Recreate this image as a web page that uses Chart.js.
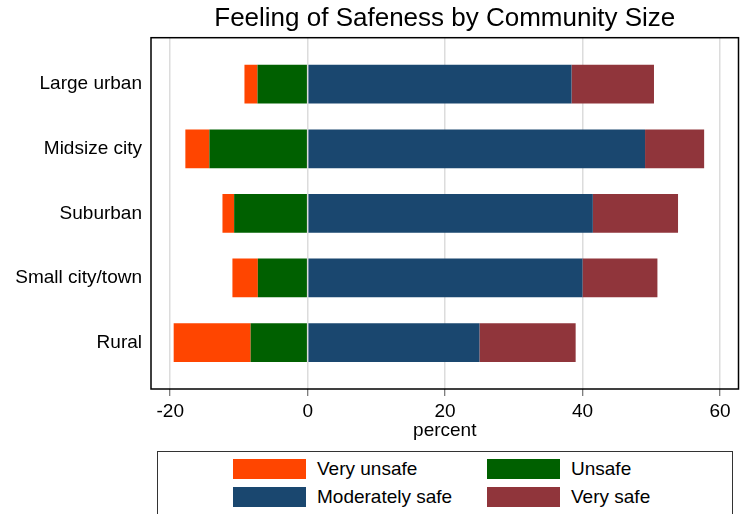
<!DOCTYPE html>
<html>
<head>
<meta charset="utf-8">
<script src="https://cdn.jsdelivr.net/npm/chart.js@4.4.1/dist/chart.umd.min.js"></script>
<style>
  html, body { margin: 0; padding: 0; background: #fff; overflow: hidden; }
  #wrap { position: relative; width: 741px; height: 514px; }
  #legend {
    position: absolute; left: 157px; top: 451px; width: 576px; height: 80px;
    border: 1px solid #333; box-sizing: border-box; background: #fff;
    font-family: "Liberation Sans", Arial, sans-serif; font-size: 19px; color: #000;
  }
  .item { position: absolute; height: 20px; display: flex; align-items: center; white-space: nowrap; }
  .sw { width: 73px; height: 20px; margin-right: 11px; box-sizing: border-box; }
</style>
</head>
<body>
<div id="wrap">
  <canvas id="c" width="741" height="514"></canvas>
  <div id="legend"></div>
</div>
<script>
// ---- data ----
const categories = ['Large urban', 'Midsize city', 'Suburban', 'Small city/town', 'Rural'];
const veryUnsafe     = [1.9, 3.5, 1.7, 3.7, 11.2];
const unsafe         = [7.3, 14.3, 10.7, 7.25, 8.3];
const moderatelySafe = [38.4, 49.1, 41.5, 40.0, 25.0];
const verySafe       = [12.0, 8.6, 12.4, 10.9, 14.0];
const xTickValues    = [-20, 0, 20, 40, 60];
const seriesNames    = ['Very unsafe', 'Unsafe', 'Moderately safe', 'Very safe'];
const seriesColors   = ['#FF4500', '#006000', '#1A476F', '#90353B'];

const FONT = '"Liberation Sans", Arial, Helvetica, sans-serif';

function pts(values, sign) {
  return categories.map((c, i) => ({ y: i, x: sign * values[i] }));
}

const frame = {
  id: 'frame',
  afterDatasetsDraw(chart) {
    const { ctx, chartArea: a } = chart;
    ctx.save();
    ctx.strokeStyle = '#000';
    ctx.lineWidth = 1.5;
    ctx.strokeRect(a.left, a.top, a.right - a.left, a.bottom - a.top);
    ctx.restore();
  }
};

const barCommon = { barPercentage: 0.6, categoryPercentage: 1, borderWidth: 0 };

const chart = new Chart(document.getElementById('c'), {
  type: 'bar',
  data: {
    datasets: [
      { label: seriesNames[1], data: pts(unsafe, -1), backgroundColor: seriesColors[1], ...barCommon },
      { label: seriesNames[0], data: pts(veryUnsafe, -1), backgroundColor: seriesColors[0], ...barCommon },
      { label: seriesNames[2], data: pts(moderatelySafe, 1), backgroundColor: seriesColors[2], ...barCommon },
      { label: seriesNames[3], data: pts(verySafe, 1), backgroundColor: seriesColors[3], ...barCommon }
    ]
  },
  options: {
    responsive: false,
    animation: false,
    indexAxis: 'y',
    layout: { padding: { left: 0, right: 2.5, top: 0, bottom: 73.5 } },
    plugins: {
      legend: { display: false },
      tooltip: { enabled: false },
      title: {
        display: true,
        text: 'Feeling of Safeness by Community Size',
        fullSize: false,
        color: '#000',
        font: { family: FONT, size: 26, weight: 'normal', lineHeight: 1.2 },
        padding: { top: 3, bottom: 3.5 }
      }
    },
    scales: {
      x: {
        type: 'linear',
        stacked: true,
        min: -22.8,
        max: 62.7,
        afterBuildTicks: s => { s.ticks = xTickValues.map(v => ({ value: v })); },
        afterFit: s => { s.height = 51.5; },
        grid: { color: '#dcdcdc', lineWidth: 1.5, drawTicks: true, tickLength: 7, tickColor: '#555', tickWidth: 1 },
        border: { display: false },
        ticks: { color: '#000', font: { family: FONT, size: 19, lineHeight: 1 }, padding: 6, maxRotation: 0 },
        title: {
          display: true, text: 'percent', color: '#000',
          font: { family: FONT, size: 19, lineHeight: 1 },
          padding: { top: 0, bottom: 0 }
        }
      },
      y: {
        type: 'linear',
        stacked: true,
        reverse: true,
        offset: false,
        min: -0.72,
        max: 4.72,
        afterBuildTicks: s => { s.ticks = categories.map((c, i) => ({ value: i })); },
        afterFit: s => { s.width = 151; },
        grid: { display: false, drawTicks: false, offset: false },
        border: { display: false },
        ticks: {
          color: '#000', font: { family: FONT, size: 19 }, padding: 9,
          callback: v => categories[v]
        }
      }
    }
  },
  plugins: [frame]
});

// HTML legend (two columns, like the reference)
const legendOrder = [0, 1, 2, 3];
const legendEl = document.getElementById('legend');
const colLeft = [75, 329];
const rowTop = [7, 35];
legendOrder.forEach((si, k) => {
  const item = document.createElement('div');
  item.className = 'item';
  item.style.left = colLeft[k % 2] + 'px';
  item.style.top = rowTop[Math.floor(k / 2)] + 'px';
  const sw = document.createElement('span');
  sw.className = 'sw';
  sw.style.background = seriesColors[si];
  const tx = document.createElement('span');
  tx.textContent = seriesNames[si];
  item.appendChild(sw);
  item.appendChild(tx);
  legendEl.appendChild(item);
});
</script>
</body>
</html>
